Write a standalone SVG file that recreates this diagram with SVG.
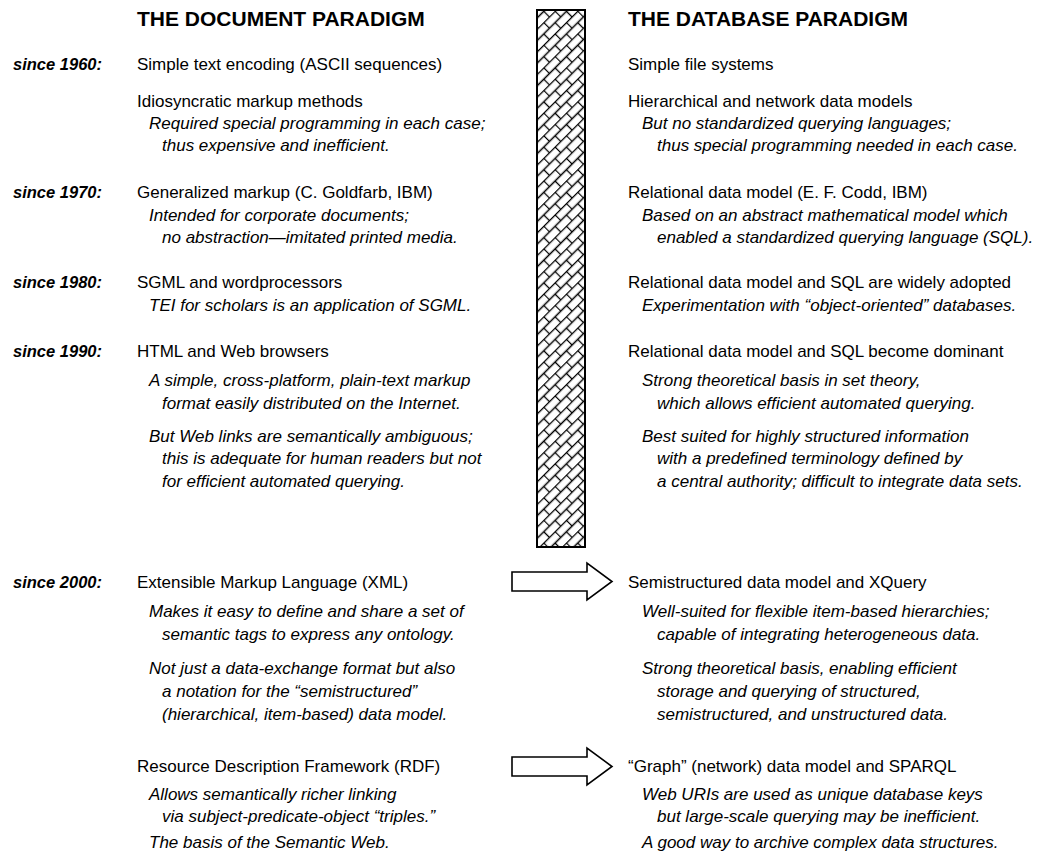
<svg xmlns="http://www.w3.org/2000/svg" width="1048" height="864" viewBox="0 0 1048 864">
<style>
text{font-family:"Liberation Sans",Arial,sans-serif;fill:#000;font-size:17px}
.h{font-weight:bold;font-size:21px}
.y{font-weight:bold;font-style:italic;font-size:16.5px}
.i{font-style:italic}
.arrow{fill:#fff;stroke:#000;stroke-width:1.6;stroke-linejoin:miter}
</style>
<defs>
<pattern id="brick" width="16" height="16" patternUnits="userSpaceOnUse" patternTransform="rotate(-45)">
<rect width="16" height="16" fill="#fff"/>
<path d="M0,0.5H16M0,8.5H16M0.5,0.5V8.5M8.5,8.5V16.5" stroke="#000" stroke-width="1.3" fill="none"/>
</pattern>
</defs>
<rect width="1048" height="864" fill="#fff"/>
<g id="bar"><rect x="537" y="10" width="48" height="537" fill="url(#brick)" stroke="#000" stroke-width="2"/></g>
<g id="connectors">
<path class="arrow" d="M512,572H587V563L612,581.5L587,600V591H512Z"/>
<path class="arrow" d="M512,757H587V748L612,766.5L587,785V776H512Z"/>
</g>
<g id="titles">
<text class="h" x="137" y="26">THE DOCUMENT PARADIGM</text>
<text class="h" x="628" y="26">THE DATABASE PARADIGM</text>
</g>
<g id="years">
<text class="y" x="13" y="70">since 1960:</text>
<text class="y" x="13" y="198">since 1970:</text>
<text class="y" x="13" y="288">since 1980:</text>
<text class="y" x="13" y="357">since 1990:</text>
<text class="y" x="13" y="588">since 2000:</text>
</g>
<g id="document">
<text x="137" y="70">Simple text encoding (ASCII sequences)</text>
<text x="137" y="107">Idiosyncratic markup methods</text>
<text class="i" x="149" y="129">Required special programming in each case;</text>
<text class="i" x="162" y="151">thus expensive and inefficient.</text>
<text x="137" y="198">Generalized markup (C. Goldfarb, IBM)</text>
<text class="i" x="149" y="221">Intended for corporate documents;</text>
<text class="i" x="162" y="243">no abstraction—imitated printed media.</text>
<text x="137" y="288">SGML and wordprocessors</text>
<text class="i" x="149" y="311">TEI for scholars is an application of SGML.</text>
<text x="137" y="357">HTML and Web browsers</text>
<text class="i" x="149" y="386">A simple, cross-platform, plain-text markup</text>
<text class="i" x="162" y="409">format easily distributed on the Internet.</text>
<text class="i" x="149" y="442">But Web links are semantically ambiguous;</text>
<text class="i" x="162" y="464">this is adequate for human readers but not</text>
<text class="i" x="162" y="487">for efficient automated querying.</text>
<text x="137" y="588">Extensible Markup Language (XML)</text>
<text class="i" x="149" y="617">Makes it easy to define and share a set of</text>
<text class="i" x="162" y="640">semantic tags to express any ontology.</text>
<text class="i" x="149" y="674">Not just a data-exchange format but also</text>
<text class="i" x="162" y="697">a notation for the “semistructured”</text>
<text class="i" x="162" y="720">(hierarchical, item-based) data model.</text>
<text x="137" y="772">Resource Description Framework (RDF)</text>
<text class="i" x="149" y="800">Allows semantically richer linking</text>
<text class="i" x="162" y="822">via subject-predicate-object “triples.”</text>
<text class="i" x="149" y="848">The basis of the Semantic Web.</text>
</g>
<g id="database">
<text x="628" y="70">Simple file systems</text>
<text x="628" y="107">Hierarchical and network data models</text>
<text class="i" x="642" y="129">But no standardized querying languages;</text>
<text class="i" x="657" y="151">thus special programming needed in each case.</text>
<text x="628" y="198">Relational data model (E. F. Codd, IBM)</text>
<text class="i" x="642" y="221">Based on an abstract mathematical model which</text>
<text class="i" x="657" y="243">enabled a standardized querying language (SQL).</text>
<text x="628" y="288">Relational data model and SQL are widely adopted</text>
<text class="i" x="642" y="311">Experimentation with “object-oriented” databases.</text>
<text x="628" y="357">Relational data model and SQL become dominant</text>
<text class="i" x="642" y="386">Strong theoretical basis in set theory,</text>
<text class="i" x="657" y="409">which allows efficient automated querying.</text>
<text class="i" x="642" y="442">Best suited for highly structured information</text>
<text class="i" x="657" y="464">with a predefined terminology defined by</text>
<text class="i" x="657" y="487">a central authority; difficult to integrate data sets.</text>
<text x="628" y="588">Semistructured data model and XQuery</text>
<text class="i" x="642" y="617">Well-suited for flexible item-based hierarchies;</text>
<text class="i" x="657" y="640">capable of integrating heterogeneous data.</text>
<text class="i" x="642" y="674">Strong theoretical basis, enabling efficient</text>
<text class="i" x="657" y="697">storage and querying of structured,</text>
<text class="i" x="657" y="720">semistructured, and unstructured data.</text>
<text x="628" y="772">“Graph” (network) data model and SPARQL</text>
<text class="i" x="642" y="800">Web URIs are used as unique database keys</text>
<text class="i" x="657" y="822">but large-scale querying may be inefficient.</text>
<text class="i" x="642" y="848">A good way to archive complex data structures.</text>
</g>
</svg>
